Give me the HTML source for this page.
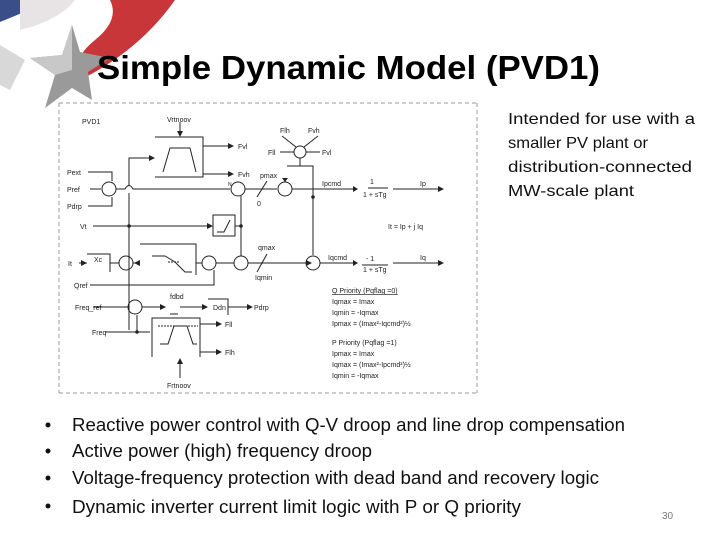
<!DOCTYPE html>
<html><head><meta charset="utf-8"><style>
html,body{margin:0;padding:0;background:#fff;}
svg{display:block;}
</style></head><body>
<svg width="720" height="540" viewBox="0 0 720 540" xmlns="http://www.w3.org/2000/svg" font-family="Liberation Sans, sans-serif">
<!-- logo -->
<path d="M0,0 L50,0 Q30,10 0,22 Z" fill="#3a4f8a"/>
<path d="M60,0 L175,0 Q140,50 80,80 Q70,60 95,40 Q120,20 110,0 Z" fill="#c8363a"/>
<path d="M20,0 L75,0 Q60,20 20,30 Z" fill="#e8e4e6"/>
<polygon points="72,25 62,55 30,58 55,75 45,108 72,88 92,100 88,72 110,58 80,52" fill="#9a9a9a"/>
<polygon points="72,25 62,55 30,58 55,75 72,70" fill="#c8c8c8"/>
<polygon points="0,45 25,60 10,90 0,85" fill="#d8d8d8"/>
<!-- title -->
<text x="97" y="79" font-size="33" font-weight="bold" textLength="503" lengthAdjust="spacingAndGlyphs">Simple Dynamic Model (PVD1)</text>
<!-- dashed frame -->
<g stroke="#999" stroke-width="1" stroke-dasharray="4,3" fill="none">
<line x1="59" y1="103" x2="477" y2="103"/><line x1="59" y1="393" x2="477" y2="393"/>
<line x1="59" y1="103" x2="59" y2="393"/><line x1="477" y1="103" x2="477" y2="393"/>
</g>
<!-- diagram -->
<g stroke="#222" stroke-width="1" fill="none">
<!-- Vrt box -->
<polyline points="155,137 203,137 203,177 155,177"/>
<line x1="180" y1="122" x2="180" y2="135"/>
<polyline points="163,172 170,148 172,148 190,148 196,172"/>
<line x1="203" y1="146" x2="228" y2="146"/><line x1="203" y1="174" x2="228" y2="174"/>
<polyline points="151,158 129,158 129,185"/><line x1="129" y1="193" x2="129" y2="330"/>
<!-- P row -->
<circle cx="109" cy="189" r="7"/>
<polyline points="88,172 112,172 112,181"/><polyline points="88,206 112,206 112,197"/>
<line x1="90" y1="189" x2="101" y2="189"/>
<path d="M116,189 L125,189 Q129,182 133,189 L230,189"/>
<circle cx="238" cy="189" r="7"/>
<line x1="245" y1="189" x2="277" y2="189"/>
<line x1="257" y1="197" x2="267" y2="181"/>
<circle cx="285" cy="189" r="7"/>
<line x1="285" y1="178" x2="285" y2="182"/>
<line x1="292" y1="189" x2="353" y2="189"/>
<line x1="393" y1="189" x2="438" y2="189"/>
<line x1="368" y1="188" x2="388" y2="188"/>
<!-- F summer -->
<circle cx="300" cy="152" r="6"/>
<line x1="282" y1="136" x2="296" y2="147"/><line x1="318" y1="136" x2="304" y2="147"/>
<line x1="280" y1="152" x2="294" y2="152"/><line x1="320" y1="152" x2="306" y2="152"/>
<polyline points="300,158 300,166"/><polyline points="287,166 313,166 313,255"/>
<!-- Vt -->
<line x1="93" y1="226" x2="211" y2="226"/>
<rect x="213" y="215" width="22" height="21"/>
<polyline points="217,232 224,232 230,220"/>
<line x1="235" y1="226" x2="241" y2="226"/>
<line x1="241" y1="196" x2="241" y2="256"/>
<!-- Q row -->
<line x1="79" y1="263" x2="87" y2="263"/>
<polyline points="87,254 110,254 110,272"/>
<line x1="110" y1="263" x2="119" y2="263"/>
<circle cx="126" cy="263" r="7"/>
<line x1="140" y1="263" x2="133" y2="263"/>
<polyline points="140,244 196,244 196,275"/>
<polyline points="152,256 165,256 175,262 185,272 192,272"/>
<line x1="168" y1="262" x2="180" y2="262" stroke-dasharray="2,1"/>
<line x1="196" y1="263" x2="202" y2="263"/>
<circle cx="209" cy="263" r="7"/>
<polyline points="90,285 214,285 214,270"/>
<line x1="216" y1="263" x2="234" y2="263"/>
<circle cx="241" cy="263" r="7"/>
<line x1="248" y1="263" x2="306" y2="263"/>
<line x1="257" y1="272" x2="267" y2="254"/>
<circle cx="313" cy="263" r="7"/>
<line x1="320" y1="263" x2="353" y2="263"/>
<line x1="362" y1="265" x2="388" y2="265"/>
<line x1="393" y1="263" x2="438" y2="263"/>
<!-- Freq -->
<line x1="93" y1="307" x2="128" y2="307"/>
<circle cx="135" cy="307" r="7"/>
<line x1="142" y1="307" x2="160" y2="307"/>
<line x1="170" y1="314" x2="178" y2="314"/>
<line x1="180" y1="307" x2="206" y2="307"/>
<polyline points="208,299 228,299 228,315"/>
<line x1="228" y1="307" x2="250" y2="307"/>
<line x1="105" y1="332" x2="150" y2="332"/>
<line x1="137" y1="332" x2="137" y2="315"/>
<polyline points="152,357 152,318 200,318 200,357"/>
<polyline points="160,344 168,344 174,326 187,326 193,344 197,344"/>
<line x1="158" y1="326" x2="198" y2="326" stroke-dasharray="2,1"/>
<line x1="200" y1="324" x2="218" y2="324"/><line x1="200" y1="352" x2="218" y2="352"/>
<line x1="180" y1="378" x2="180" y2="362"/>
</g>
<g fill="#222">
<circle cx="129" cy="226" r="1.8"/><circle cx="241" cy="226" r="1.8"/><circle cx="313" cy="197" r="1.8"/><circle cx="137" cy="332" r="1.8"/>
<polygon points="228,143 234,146 228,149"/><polygon points="228,171 234,174 228,177"/>
<polygon points="177,131 183,131 180,137"/><polygon points="149,155 155,158 149,161"/>
<polygon points="353,186 358,189 353,192"/><polygon points="438,186 444,189 438,192"/>
<polygon points="353,260 358,263 353,266"/><polygon points="438,260 444,263 438,266"/>
<polygon points="207,223 213,226 207,229"/><polygon points="306,260 312,263 306,266"/>
<polygon points="81,260 87,263 81,266"/><polygon points="140,260 134,263 140,266"/>
<polygon points="160,304 166,307 160,310"/><polygon points="202,304 208,307 202,310"/>
<polygon points="247,304 253,307 247,310"/><polygon points="216,321 222,324 216,327"/>
<polygon points="216,349 222,352 216,355"/><polygon points="177,364 183,364 180,358"/>
<polygon points="282,178 288,178 285,182"/>
</g>
<g font-size="7" fill="#222">
<text x="82" y="124">PVD1</text>
<text x="167" y="122">Vrtnoov</text>
<text x="238" y="149">Fvl</text><text x="238" y="177">Fvh</text>
<text x="280" y="133">Flh</text><text x="308" y="133">Fvh</text>
<text x="268" y="155">Fll</text><text x="322" y="155">Fvl</text>
<text x="67" y="175">Pext</text><text x="67" y="192">Pref</text><text x="67" y="209">Pdrp</text>
<text x="228" y="186" font-size="5">N</text>
<text x="260" y="178">pmax</text><text x="257" y="206">0</text>
<text x="322" y="186">Ipcmd</text>
<text x="370" y="184">1</text><text x="363" y="197">1 + sTg</text>
<text x="420" y="186">Ip</text>
<text x="80" y="229">Vt</text>
<text x="388" y="229">It = Ip + j Iq</text>
<text x="68" y="266">It</text><text x="94" y="262">Xc</text>
<text x="258" y="250">qmax</text><text x="255" y="280">Iqmin</text>
<text x="328" y="260">Iqcmd</text>
<text x="366" y="261">- 1</text><text x="363" y="272">1 + sTg</text>
<text x="420" y="260">Iq</text>
<text x="74" y="288">Qref</text>
<text x="75" y="310">Freq_ref</text><text x="92" y="335">Freq</text>
<text x="170" y="299">fdbd</text>
<text x="213" y="310">Ddn</text><text x="254" y="310">Pdrp</text>
<text x="225" y="327">Fll</text><text x="225" y="355">Flh</text>
<text x="167" y="388">Frtnoov</text>
<text x="332" y="293" text-decoration="underline">Q Priority (Pqflag =0)</text>
<text x="332" y="304">Iqmax = Imax</text>
<text x="332" y="315">Iqmin = -Iqmax</text>
<text x="332" y="326">Ipmax = (Imax²-Iqcmd²)½</text>
<text x="332" y="345">P Priority (Pqflag =1)</text>
<text x="332" y="356">Ipmax = Imax</text>
<text x="332" y="367">Iqmax = (Imax²-Ipcmd²)½</text>
<text x="332" y="378">Iqmin = -Iqmax</text>
</g>
<!-- right text -->
<g font-size="16" fill="#111">
<text x="508" y="124" textLength="187" lengthAdjust="spacingAndGlyphs">Intended for use with a</text>
<text x="508" y="148" textLength="140" lengthAdjust="spacingAndGlyphs">smaller PV plant or</text>
<text x="508" y="172" textLength="184" lengthAdjust="spacingAndGlyphs">distribution-connected</text>
<text x="508" y="196" textLength="126" lengthAdjust="spacingAndGlyphs">MW-scale plant</text>
</g>
<!-- bullets -->
<g font-size="18" fill="#111">
<circle cx="48" cy="425" r="2.5"/><circle cx="48" cy="451" r="2.5"/><circle cx="48" cy="478" r="2.5"/><circle cx="48" cy="506" r="2.5"/>
<text x="72" y="431" textLength="553" lengthAdjust="spacingAndGlyphs">Reactive power control with Q-V droop and line drop compensation</text>
<text x="72" y="457" textLength="300" lengthAdjust="spacingAndGlyphs">Active power (high) frequency droop</text>
<text x="72" y="484" textLength="527" lengthAdjust="spacingAndGlyphs">Voltage-frequency protection with dead band and recovery logic</text>
<text x="72" y="513" textLength="449" lengthAdjust="spacingAndGlyphs">Dynamic inverter current limit logic with P or Q priority</text>
</g>
<text x="662" y="519" font-size="10" fill="#777">30</text>
</svg>
</body></html>
